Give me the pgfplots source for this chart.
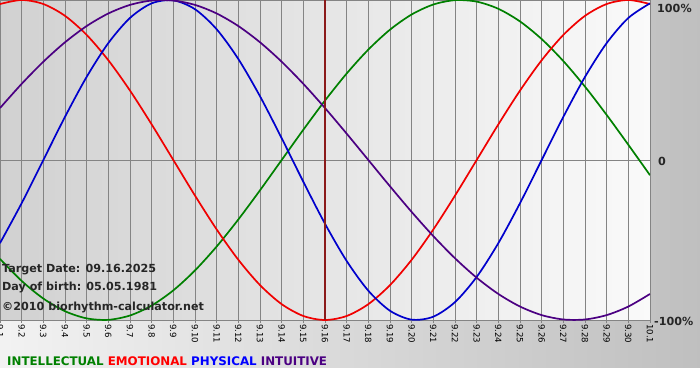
\documentclass[border=0pt]{standalone}
\usepackage{pgfplots}
\pgfplotsset{compat=1.18}
\usepackage{fontspec}
\setmainfont{DejaVu Sans}
\definecolor{cint}{HTML}{008000}
\definecolor{cemo}{HTML}{F00000}
\definecolor{cphy}{HTML}{0000CC}
\definecolor{ctui}{HTML}{4B0082}
\definecolor{cgrid}{HTML}{848484}
\definecolor{cmark}{HTML}{8B1A1A}
\pgfplotstableread{
d  intel   emo     phys    intu
0  -0.6182 0.9749  -0.5196 0.3247
1  -0.7557 1.0000  -0.2698 0.4759
2  -0.8660 0.9749  0.0000  0.6142
3  -0.9450 0.9010  0.2698  0.7357
4  -0.9898 0.7818  0.5196  0.8372
5  -0.9989 0.6235  0.7308  0.9158
6  -0.9718 0.4339  0.8879  0.9694
7  -0.9096 0.2225  0.9791  0.9966
8  -0.8146 0.0000  0.9977  0.9966
9  -0.6901 -0.2225 0.9423  0.9694
10 -0.5406 -0.4339 0.8170  0.9158
11 -0.3717 -0.6235 0.6311  0.8372
12 -0.1893 -0.7818 0.3984  0.7357
13 0.0000  -0.9010 0.1362  0.6142
14 0.1893  -0.9749 -0.1362 0.4759
15 0.3717  -1.0000 -0.3984 0.3247
16 0.5406  -0.9749 -0.6311 0.1646
17 0.6901  -0.9010 -0.8170 0.0000
18 0.8146  -0.7818 -0.9423 -0.1646
19 0.9096  -0.6235 -0.9977 -0.3247
20 0.9718  -0.4339 -0.9791 -0.4759
21 0.9989  -0.2225 -0.8879 -0.6142
22 0.9898  0.0000  -0.7308 -0.7357
23 0.9450  0.2225  -0.5196 -0.8372
24 0.8660  0.4339  -0.2698 -0.9158
25 0.7557  0.6235  0.0000  -0.9694
26 0.6182  0.7818  0.2698  -0.9966
27 0.4582  0.9010  0.5196  -0.9966
28 0.2817  0.9749  0.7308  -0.9694
29 0.0951  1.0000  0.8879  -0.9158
30 -0.0951 0.9749  0.9791  -0.8372
}\bio
\begin{document}
\begin{tikzpicture}[x=1bp,y=1bp]
\useasboundingbox (0,-60) rectangle (700,320);
\shade[left color=white!95!black, right color=black!25] (0,-48) rectangle (700,320);
\fill[white] (0,-60) rectangle (700,-48);
\begin{axis}[
  at={(0,0)}, anchor=south west,
  scale only axis, width=650bp, height=320bp,
  xmin=0, xmax=30, ymin=-1, ymax=1,
  axis background/.style={left color=black!18, right color=white!98!black},
  axis line style={cgrid, line width=0.8bp},
  xtick={0,...,30},
  xticklabels={9.1,9.2,9.3,9.4,9.5,9.6,9.7,9.8,9.9,9.10,9.11,9.12,9.13,9.14,9.15,9.16,9.17,9.18,9.19,9.20,9.21,9.22,9.23,9.24,9.25,9.26,9.27,9.28,9.29,9.30,10.1},
  xticklabel style={rotate=-90, anchor=west, font=\fontsize{8.6}{9}\selectfont, inner sep=1bp, text=black},
  xtick pos=bottom, tick align=outside, major tick length=3bp,
  xmajorgrids, ymajorgrids,
  grid style={cgrid, line width=0.8bp},
  major tick style={cgrid, line width=0.8bp},
  ytick={-1,0,1}, yticklabels={},
  ytick pos=right,
  y tick style={draw=none},
]
\addplot[cint, line width=1.7bp, smooth, no markers] table[x=d, y=intel] {\bio};
\addplot[cemo, line width=1.7bp, smooth, no markers] table[x=d, y=emo] {\bio};
\addplot[cphy, line width=1.7bp, smooth, no markers] table[x=d, y=phys] {\bio};
\addplot[ctui, line width=1.7bp, smooth, no markers] table[x=d, y=intu] {\bio};
\addplot[cmark, line width=1.8bp, no markers] coordinates {(15,-1) (15,1)};
\end{axis}
\begin{scope}[font=\fontsize{11.2}{13}\selectfont\bfseries]
\node[anchor=west, inner sep=0, text=black!85] at (2,50) {Target Date: 09.16.2025};
\node[anchor=west, inner sep=0, text=black!85] at (2,33) {Day of birth: 05.05.1981};
\node[anchor=west, inner sep=0, text=black!85] at (2,13) {©2010 biorhythm-calculator.net};
\node[anchor=west, inner sep=0, text=black!85] at (657,312) {100\%};
\node[anchor=west, inner sep=0, text=black!85] at (658,159) {0};
\node[anchor=west, inner sep=0, text=black!85] at (654,-1) {-100\%};
\end{scope}
\node[anchor=west, inner sep=0, font=\fontsize{11.9}{13}\selectfont\bfseries] at (7,-41) {\textcolor{cint}{INTELLECTUAL} \textcolor{red}{EMOTIONAL} \textcolor{blue}{PHYSICAL} \textcolor{ctui}{INTUITIVE}};
\end{tikzpicture}
\end{document}
